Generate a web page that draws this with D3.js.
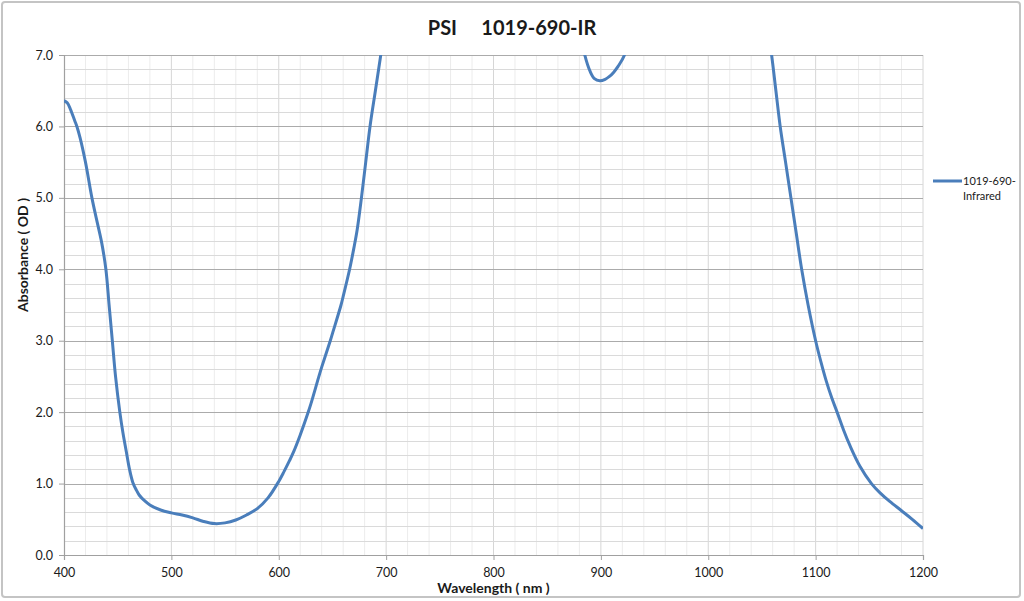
<!DOCTYPE html>
<html lang="en">
<head>
<meta charset="UTF-8">
<title>PSI 1019-690-IR</title>
<script src="https://d3js.org/d3.v7.min.js"></script>
<style>
  body { margin: 0; background: #fff; }
  text { font-family: Lato, "Open Sans", sans-serif; fill: #1a1a1a; }
  .tick text { font-size: 12.5px; }
  .axis-title { font-size: 14px; font-weight: bold; }
  .title { font-size: 20px; font-weight: bold; white-space: pre; }
</style>
</head>
<body>
<svg width="1024" height="601"></svg>
<script>
// wavelength (nm) and absorbance (OD); values above 7 are off-scale
var wavelength = [400, 403, 406, 410, 412, 415, 420, 426, 430, 435, 439, 442, 445, 448, 452, 455, 458, 461, 464, 467, 470, 475, 480, 490,
  500, 510, 520, 530, 540, 550, 560, 570, 580, 590, 600, 605, 610, 614, 620, 627, 630, 637, 640, 648, 650, 658, 660,
  666, 670, 673, 677, 681, 685, 690, 695, 700, 710, 730, 800, 860, 880,
  885, 890, 894, 899, 904, 908, 912, 916, 922, 930, 960, 1000, 1040, 1050, 1055,
  1059, 1063, 1067, 1072, 1077, 1082, 1087, 1093, 1100, 1105, 1110, 1115, 1120, 1126, 1132, 1141, 1152, 1160, 1169, 1180, 1190, 1200];
var absorbance = [6.36, 6.33, 6.24, 6.08, 6.0, 5.84, 5.5, 5.0, 4.72, 4.38, 4.0, 3.5, 3.0, 2.5, 2.0, 1.7, 1.45, 1.2, 1.02, 0.92, 0.84, 0.76, 0.7, 0.63,
  0.59, 0.56, 0.52, 0.47, 0.44, 0.45, 0.49, 0.56, 0.65, 0.8, 1.03, 1.17, 1.32, 1.45, 1.68, 1.98, 2.12, 2.48, 2.63, 3.0, 3.1, 3.5, 3.62,
  4.0, 4.3, 4.55, 5.0, 5.5, 6.0, 6.5, 7.0, 7.5, 8.5, 9.4, 9.8, 8.6, 7.4,
  7.0, 6.77, 6.67, 6.64, 6.66, 6.70, 6.76, 6.84, 7.0, 7.5, 8.5, 9.5, 8.6, 7.9, 7.4,
  7.0, 6.5, 6.0, 5.5, 5.0, 4.5, 4.0, 3.5, 3.0, 2.7, 2.43, 2.2, 2.0, 1.75, 1.53, 1.25, 1.0, 0.87, 0.75, 0.62, 0.5, 0.37];
var xTicks = [400, 500, 600, 700, 800, 900, 1000, 1100, 1200];
var yTicks = [0, 1, 2, 3, 4, 5, 6, 7];
var seriesName = ["1019-690-", "Infrared"];

var margin = {top: 55, right: 101, bottom: 46, left: 64};
var width = 1024 - margin.left - margin.right;
var height = 601 - margin.top - margin.bottom;

var data = wavelength.map((w, i) => ({w: w, a: absorbance[i]}));

const root = d3.select('svg');

// chart frame
root.append('rect')
  .attr('x', 2).attr('y', 2)
  .attr('width', 1018).attr('height', 595)
  .attr('rx', 3)
  .attr('fill', 'none')
  .attr('stroke', '#c4c4c4')
  .attr('stroke-width', 2);

const svg = root.append('g')
  .attr('transform', `translate(${margin.left}, ${margin.top})`);

const x = d3.scaleLinear().domain([400, 1200]).range([0, width]);
const y = d3.scaleLinear().domain([0, 7]).range([height, 0]);

// vertical grid: minor every 20 nm, major every 100 nm
svg.append('g').selectAll('line')
  .data(d3.range(420, 1200, 20))
  .enter().append('line')
  .attr('x1', d => x(d)).attr('x2', d => x(d))
  .attr('y1', 0).attr('y2', height)
  .attr('stroke', d => d % 100 === 0 ? '#d6d6d6' : '#ececec')
  .attr('stroke-width', 1);
svg.append('line')
  .attr('x1', x(1200)).attr('x2', x(1200))
  .attr('y1', 0).attr('y2', height)
  .attr('stroke', '#d6d6d6');

// horizontal grid: minor every 0.2, major every 1.0
svg.append('g').selectAll('line')
  .data(d3.range(1, 36).map(i => i * 0.2))
  .enter().append('line')
  .attr('x1', 0).attr('x2', width)
  .attr('y1', d => Math.round(y(d)) + 0.5).attr('y2', d => Math.round(y(d)) + 0.5)
  .attr('stroke', (d, i) => (i + 1) % 5 === 0 ? '#ababab' : '#dadada')
  .attr('stroke-width', 1.2);

// axes
const xAxis = svg.append('g')
  .attr('transform', `translate(0, ${height})`)
  .call(d3.axisBottom(x).tickValues(xTicks).tickSize(5).tickPadding(8).tickFormat(d3.format('d')));
const yAxis = svg.append('g')
  .call(d3.axisLeft(y).tickValues(yTicks).tickSize(5).tickPadding(6).tickFormat(d3.format('.1f')));
[xAxis, yAxis].forEach(a => {
  a.select('.domain').attr('stroke', '#a0a0a0').attr('stroke-width', 1.2);
  a.selectAll('.tick line').attr('stroke', '#a0a0a0');
  a.selectAll('.tick text').attr('fill', '#1a1a1a');
  a.attr('font-family', null).attr('font-size', null);
});

// curve, clipped to plot area
svg.append('clipPath').attr('id', 'plot-clip')
  .append('rect').attr('x', 0).attr('y', 0).attr('width', width).attr('height', height);

const line = d3.line()
  .x(d => x(d.w))
  .y(d => y(d.a))
  .curve(d3.curveCatmullRom.alpha(0.5));

svg.append('path')
  .datum(data)
  .attr('clip-path', 'url(#plot-clip)')
  .attr('fill', 'none')
  .attr('stroke', '#4a7ebb')
  .attr('stroke-width', 3)
  .attr('stroke-linejoin', 'round')
  .attr('d', line);

// titles
root.append('text')
  .attr('class', 'title')
  .attr('x', 512).attr('y', 35)
  .attr('text-anchor', 'middle')
  .text('PSI     1019-690-IR');

root.append('text')
  .attr('class', 'axis-title')
  .attr('x', margin.left + x(800))
  .attr('y', 593)
  .attr('text-anchor', 'middle')
  .text('Wavelength ( nm )');

root.append('text')
  .attr('class', 'axis-title')
  .attr('transform', 'translate(28, 255) rotate(-90)')
  .attr('text-anchor', 'middle')
  .text('Absorbance ( OD )');

// legend
const legend = root.append('g').attr('transform', 'translate(933, 181)');
legend.append('line')
  .attr('x1', 0).attr('x2', 29).attr('y1', 0).attr('y2', 0)
  .attr('stroke', '#4a7ebb').attr('stroke-width', 3);
legend.selectAll('text')
  .data(seriesName)
  .enter().append('text')
  .attr('x', 30)
  .attr('y', (d, i) => 4 + i * 14.5)
  .style('font-size', '11px')
  .text(d => d);
</script>
</body>
</html>
